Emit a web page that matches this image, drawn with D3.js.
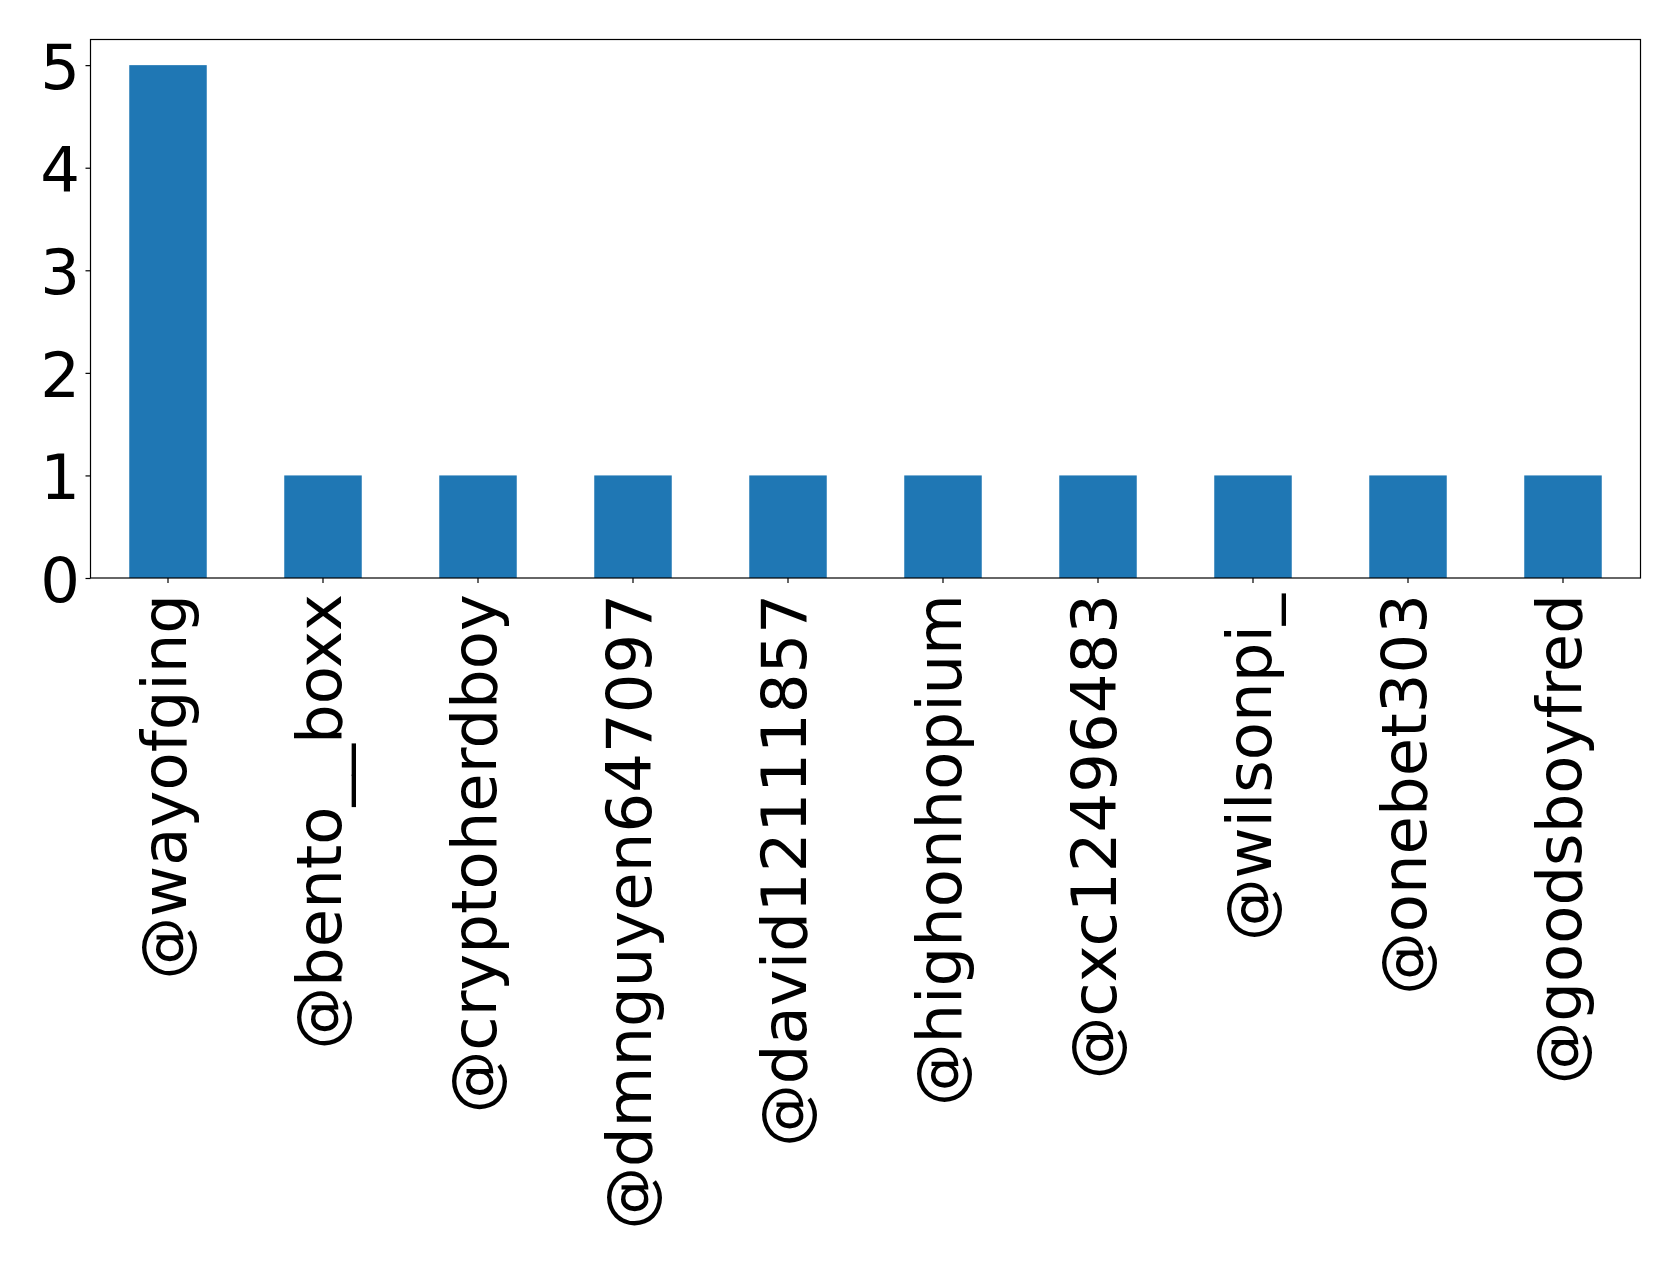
<!DOCTYPE html>
<html>
<head>
<meta charset="utf-8">
<script src="https://cdn.jsdelivr.net/npm/d3@7"></script>
<style>
  html, body { margin: 0; padding: 0; background: #fff; }
  svg { display: block; }
  text { font-family: "DejaVu Sans", sans-serif; fill: #000; }
</style>
</head>
<body>
<script>
// Mention counts per account
const accounts = ["@wayofging", "@bento__boxx", "@cryptoherdboy", "@dmnguyen647097",
  "@david12111857", "@highonhopium", "@cxc12496483", "@wilsonpi_", "@onebet303", "@goodsboyfred"];
const counts = [5, 1, 1, 1, 1, 1, 1, 1, 1, 1];
const yTicks = [0, 1, 2, 3, 4, 5];

const W = 1679, H = 1263;
const plot = { left: 90.5, right: 1640.5, top: 39.5, bottom: 578 };
const fontPx = 62.5;

const svg = d3.select("body").append("svg").attr("width", W).attr("height", H);

const x = d3.scaleBand().domain(accounts)
  .range([plot.left, plot.right]).paddingInner(0.5).paddingOuter(0.25);
const y = d3.scaleLinear().domain([0, 5.25]).range([plot.bottom, plot.top]);

// bars
svg.append("g").selectAll("rect").data(accounts).join("rect")
  .attr("x", d => x(d))
  .attr("width", x.bandwidth())
  .attr("y", (d, i) => y(counts[i]))
  .attr("height", (d, i) => y(0) - y(counts[i]))
  .attr("fill", "#1f77b4");

// frame
svg.append("rect")
  .attr("x", plot.left).attr("y", plot.top)
  .attr("width", plot.right - plot.left).attr("height", plot.bottom - plot.top)
  .attr("fill", "none").attr("stroke", "#000").attr("stroke-width", 1.2);

// y axis
const yAxis = d3.axisLeft(y).tickValues(yTicks).tickFormat(d3.format("d")).tickSize(5).tickPadding(6);
const gy = svg.append("g").attr("transform", `translate(${plot.left},0)`).call(yAxis);
gy.select(".domain").remove();
gy.selectAll(".tick line").attr("stroke", "#000").attr("stroke-width", 1.2);
gy.selectAll(".tick text")
  .attr("font-size", fontPx).attr("font-family", "DejaVu Sans")
  .attr("dy", null).attr("y", 23.5).attr("x", -10.5);

// x axis
const xAxis = d3.axisBottom(x).tickSize(5).tickSizeOuter(0);
const gx = svg.append("g").attr("transform", `translate(0,${plot.bottom})`).call(xAxis);
gx.select(".domain").remove();
gx.selectAll(".tick line").attr("stroke", "#000").attr("stroke-width", 1.2);
gx.selectAll(".tick text")
  .attr("font-size", fontPx).attr("font-family", "DejaVu Sans")
  .attr("dy", null).attr("y", null)
  .attr("text-anchor", "end")
  .attr("transform", "translate(17.5,16) rotate(-90)");
</script>
</body>
</html>
